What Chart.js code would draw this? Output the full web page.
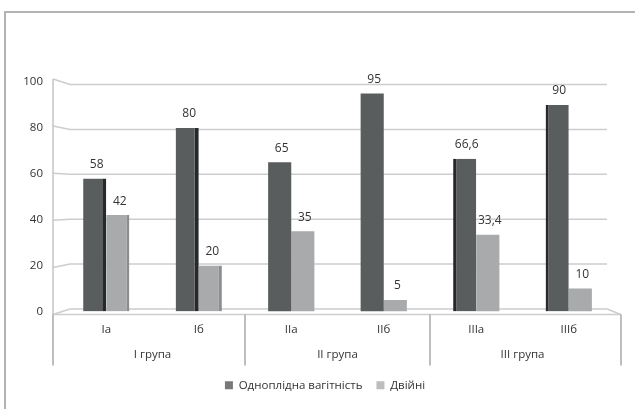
<!DOCTYPE html>
<html>
<head>
<meta charset="utf-8">
<script src="https://cdn.jsdelivr.net/npm/chart.js@4"></script>
<style>
  html, body { margin: 0; padding: 0; background: #fff; }
  #wrap { width: 635px; height: 409px; position: relative; }
</style>
</head>
<body>
<div id="wrap"><canvas id="myChart" width="635" height="409"></canvas></div>
<script>
const categories = ["Ia", "Iб", "IIa", "IIб", "IIIa", "IIIб"];
const groups = ["I група", "II група", "III група"];
const seriesNames = ["Одноплідна вагітність", "Двійні"];
const singleValues = [58, 80, 65, 95, 66.6, 90];
const twinValues = [42, 20, 35, 5, 33.4, 10];

const FONT = "'Open Sans', 'Noto Sans', sans-serif";

// side strip to fake the 3D look
const darkSide = (c) => (c.dataIndex < 2 ? { right: 4 } : c.dataIndex > 3 ? { left: 3 } : 0);
const lightSide = (c) => (c.dataIndex < 2 ? { right: 3 } : 0);

// walls, floor, dividers, value labels, outer frame
const roomPlugin = {
  id: "room",
  beforeDatasetsDraw(chart) {
    const ctx = chart.ctx;
    const a = chart.chartArea;
    const ys = chart.scales.y;
    const xs = chart.scales.x;
    const mid = (a.top + a.bottom) / 2;
    const front = (y) => mid + (y - mid) * 1.026;
    const back = (y) => mid + (y - mid) * 0.978;
    const fl = a.left - 7, bl = a.left + 10, br = a.right - 8, fr = a.right + 6;
    ctx.save();
    ctx.lineWidth = 1.5;
    ctx.strokeStyle = "#cdcdcd";
    ys.ticks.forEach((t) => {
      const y = ys.getPixelForValue(t.value);
      ctx.beginPath();
      ctx.moveTo(fl, front(y));
      ctx.lineTo(bl, back(y));
      ctx.lineTo(br, back(y));
      if (t.value === 0) ctx.lineTo(fr, front(y));
      ctx.stroke();
    });
    // floor front edge
    ctx.beginPath();
    ctx.moveTo(fl, front(a.bottom));
    ctx.lineTo(fr, front(a.bottom));
    ctx.stroke();
    // left wall edge
    ctx.strokeStyle = "#c4c4c4";
    ctx.beginPath();
    ctx.moveTo(fl, front(a.top));
    ctx.lineTo(fl, front(a.bottom));
    ctx.stroke();
    // group dividers
    const bottom = chart.scales.x2.bottom;
    const xsDiv = [
      fl,
      (xs.getPixelForValue(1) + xs.getPixelForValue(2)) / 2,
      (xs.getPixelForValue(3) + xs.getPixelForValue(4)) / 2,
      fr,
    ];
    ctx.strokeStyle = "#a9a9a9";
    xsDiv.forEach((x) => {
      ctx.beginPath();
      ctx.moveTo(x, front(a.bottom));
      ctx.lineTo(x, bottom);
      ctx.stroke();
    });
    ctx.restore();
  },
  afterDatasetsDraw(chart) {
    const ctx = chart.ctx;
    ctx.save();
    ctx.font = "12px " + FONT;
    ctx.fillStyle = "#333";
    ctx.textAlign = "center";
    ctx.textBaseline = "middle";
    chart.data.datasets.forEach((ds, i) => {
      chart.getDatasetMeta(i).data.forEach((bar, j) => {
        const txt = String(ds.data[j]).replace(".", ",");
        ctx.fillText(txt, bar.x + 2, bar.y - 14);
      });
    });
    ctx.restore();
  },
  beforeDraw(chart) {
    const ctx = chart.ctx;
    ctx.save();
    ctx.strokeStyle = "#b3b3b3";
    ctx.lineWidth = 2;
    ctx.beginPath();
    ctx.moveTo(5, chart.height);
    ctx.lineTo(5, 12);
    ctx.lineTo(chart.width, 12);
    ctx.stroke();
    ctx.restore();
  },
};

const legendColors = ["#787878", "#bdbdbd"];

const ctx = document.getElementById("myChart").getContext("2d");
const myChart = new Chart(ctx, {
  type: "bar",
  data: {
    labels: categories,
    datasets: [
      {
        label: seriesNames[0],
        data: singleValues,
        backgroundColor: "#5a5d5e",
        borderColor: "#26282a",
        borderWidth: darkSide,
        borderSkipped: false,
      },
      {
        label: seriesNames[1],
        data: twinValues,
        backgroundColor: "#a8aaab",
        borderColor: "#8b8d8e",
        borderWidth: lightSide,
        borderSkipped: false,
      },
    ],
  },
  options: {
    responsive: false,
    animation: false,
    layout: { padding: { top: 82, right: 0, left: 15, bottom: 8 } },
    datasets: { bar: { categoryPercentage: 0.5, barPercentage: 1 } },
    scales: {
      y: {
        min: 0,
        max: 100,
        ticks: { stepSize: 20, padding: 17, color: "#333", font: { size: 11.5, family: FONT } },
        grid: { display: false, drawTicks: false },
        border: { display: false },
        afterFit: (s) => { s.width = 45; },
      },
      yRight: {
        position: "right",
        ticks: { display: false },
        grid: { display: false, drawTicks: false },
        border: { display: false },
        afterFit: (s) => { s.width = 20; },
      },
      x: {
        ticks: { padding: 11, color: "#333", font: { size: 11.5, family: FONT } },
        grid: { display: false, drawTicks: false },
        border: { display: false },
        afterFit: (s) => { s.height = 25; },
      },
      x2: {
        type: "category",
        position: "bottom",
        labels: groups,
        offset: true,
        ticks: { padding: 11, color: "#333", font: { size: 11.5, family: FONT } },
        grid: { display: false, drawTicks: false },
        border: { display: false },
        afterFit: (s) => { s.height = 29; },
      },
    },
    plugins: {
      legend: {
        position: "bottom",
        labels: {
          boxWidth: 8,
          boxHeight: 8,
          padding: 14,
          color: "#333",
          font: { size: 11.5, family: FONT },
          generateLabels: (chart) =>
            chart.data.datasets.map((ds, i) => ({
              text: ds.label,
              fillStyle: legendColors[i],
              strokeStyle: legendColors[i],
              lineWidth: 0,
              datasetIndex: i,
              fontColor: "#333",
            })),
        },
      },
      tooltip: { enabled: false },
    },
  },
  plugins: [roomPlugin],
});
</script>
</body>
</html>
